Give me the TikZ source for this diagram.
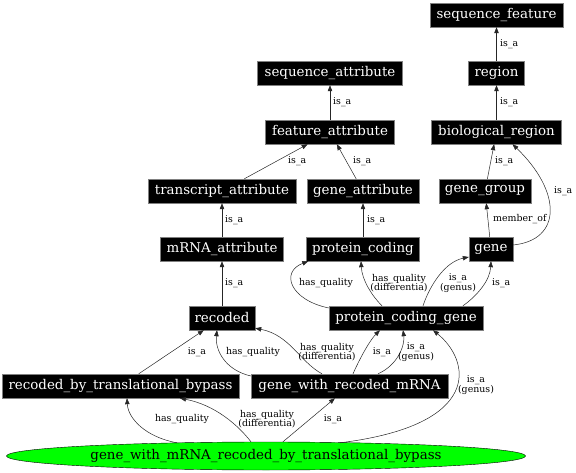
\documentclass[tikz,border=0pt]{standalone}
\usepackage{fontspec}
\setmainfont{DejaVu Serif}
\usetikzlibrary{arrows.meta, shapes.geometric}

\begin{document}
\begin{tikzpicture}[x=1pt, y=-1pt, >={Triangle[length=6pt, width=4.5pt]},
    term/.style={draw=gray, fill=black, text=white, rectangle, minimum height=24pt, inner sep=0pt, font=\fontsize{13.4}{14}\selectfont},
    lab/.style={font=\fontsize{9.4}{9.6}\selectfont, align=center, inner sep=0pt},
    link/.style={->, draw=black!85, line width=0.5pt}]
    \useasboundingbox (0,0) rectangle (576,473);

    \node[term, minimum width=133pt] (seqfeat) at (496.5,15) {sequence\_feature};
    \node[term, minimum width=56pt] (region) at (496.5,73) {region};
    \node[term, minimum width=145pt] (seqattr) at (330,73) {sequence\_attribute};
    \node[term, minimum width=129pt] (featattr) at (330,132) {feature\_attribute};
    \node[term, minimum width=130pt] (bioreg) at (496.5,132) {biological\_region};
    \node[term, minimum width=148pt] (transattr) at (222,191) {transcript\_attribute};
    \node[term, minimum width=112pt] (geneattr) at (363,191) {gene\_attribute};
    \node[term, minimum width=92pt] (genegroup) at (485,191) {gene\_group};
    \node[term, minimum width=123pt] (mrnaattr) at (222,249) {mRNA\_attribute};
    \node[term, minimum width=113pt] (protcod) at (363,249) {protein\_coding};
    \node[term, minimum width=44pt] (gene) at (491,249) {gene};
    \node[term, minimum width=66pt] (recoded) at (222,318) {recoded};
    \node[term, minimum width=154pt] (pcg) at (406,318) {protein\_coding\_gene};
    \node[term, minimum width=237pt] (rbtb) at (120.5,386) {recoded\_by\_translational\_bypass};
    \node[term, minimum width=197pt] (gwrm) at (349.5,386) {gene\_with\_recoded\_mRNA};
    \node[draw=black, fill=green, ellipse, minimum width=519pt, minimum height=28pt, inner sep=0pt, font=\fontsize{13.4}{14}\selectfont] (gwmrtb) at (266,456) {gene\_with\_mRNA\_recoded\_by\_translational\_bypass};

    % is_a chains
    \draw[link] (region) -- (seqfeat);
    \draw[link] (bioreg) -- (region);
    \draw[link] (featattr) -- (seqattr);
    \draw[link] (transattr) -- (featattr);
    \draw[link] (geneattr) -- (featattr);
    \draw[link] (genegroup) -- (bioreg);
    \draw[link] (mrnaattr) -- (transattr);
    \draw[link] (recoded) -- (mrnaattr);
    \draw[link] (protcod) -- (geneattr);
    \draw[link] (gene) -- (genegroup);
    \draw[link] ([yshift=4pt]gene.east) .. controls (562,240) and (562,192) .. ([xshift=16pt]bioreg.south);

    % protein_coding_gene
    \draw[link] ([xshift=17pt]pcg.north) .. controls (430,285) and (445,262) .. ([yshift=-8pt]gene.west);
    \draw[link] ([xshift=57pt]pcg.north) .. controls (478,295) and (490,280) .. (gene.south);
    \draw[link] ([yshift=10pt]pcg.west) .. controls (290,300) and (280,272) .. ([xshift=2pt]protcod.south west);
    \draw[link] ([xshift=-24pt]pcg.north) .. controls (372,296) and (362,280) .. ([xshift=-2pt]protcod.south);

    % recoded row
    \draw[link] (rbtb) -- (recoded);
    \draw[link] ([yshift=10pt]gwrm.west) .. controls (225,370) and (215,350) .. ([xshift=-5pt]recoded.south);
    \draw[link] ([xshift=-27.5pt]gwrm.north) .. controls (300,362) and (290,335) .. ([yshift=2pt]recoded.south east);
    \draw[link] ([xshift=3.5pt]gwrm.north) .. controls (360,358) and (370,340) .. ([xshift=-26pt]pcg.south);
    \draw[link] ([xshift=28.5pt]gwrm.north) .. controls (398,365) and (405,345) .. ([xshift=-3pt]pcg.south);

    % the green term
    \draw[link] ([xshift=74pt, yshift=-1pt]gwmrtb.north) .. controls (485,425) and (470,360) .. ([xshift=27pt]pcg.south);
    \draw[link] (gwmrtb) -- (gwrm);
    \draw[link] ([xshift=-15pt]gwmrtb.north) .. controls (238,425) and (215,405) .. ([xshift=59.5pt]rbtb.south);
    \draw[link] ([xshift=-89pt, yshift=-1pt]gwmrtb.north) .. controls (145,437) and (128,418) .. ([xshift=6.5pt]rbtb.south);

    % labels
    \node[lab, anchor=west] (l1) at (500,44) {is\_a};
    \node[lab, anchor=west] (l2) at (500,102) {is\_a};
    \node[lab, anchor=west] (l3) at (333,102) {is\_a};
    \node[lab, anchor=west] (l4) at (288,161) {is\_a};
    \node[lab, anchor=west] (l5) at (353,161) {is\_a};
    \node[lab, anchor=west] (l6) at (495,161) {is\_a};
    \node[lab, anchor=west] (l7) at (554,191) {is\_a};
    \node[lab, anchor=west] (l8) at (225,220) {is\_a};
    \node[lab, anchor=west] (l9) at (367,220) {is\_a};
    \node[lab, anchor=west] (l10) at (493,219) {member\_of};
    \node[lab, anchor=west] (l11) at (225,283) {is\_a};
    \node[lab] (l12) at (326,283) {has\_quality};
    \node[lab] (l13) at (399,283) {has\_quality\\(differentia)};
    \node[lab] (l14) at (458,283) {is\_a\\(genus)};
    \node[lab, anchor=west] (l15) at (492,283) {is\_a};
    \node[lab] (l16) at (197,352) {is\_a};
    \node[lab] (l17) at (253,352) {has\_quality};
    \node[lab] (l18) at (327,352) {has\_quality\\(differentia)};
    \node[lab] (l19) at (382,352) {is\_a};
    \node[lab] (l20) at (416,352) {is\_a\\(genus)};
    \node[lab] (l21) at (476,385) {is\_a\\(genus)};
    \node[lab] (l22) at (182,419) {has\_quality};
    \node[lab] (l23) at (267,419) {has\_quality\\(differentia)};
    \node[lab] (l24) at (333,419) {is\_a};
\end{tikzpicture}
\end{document}
